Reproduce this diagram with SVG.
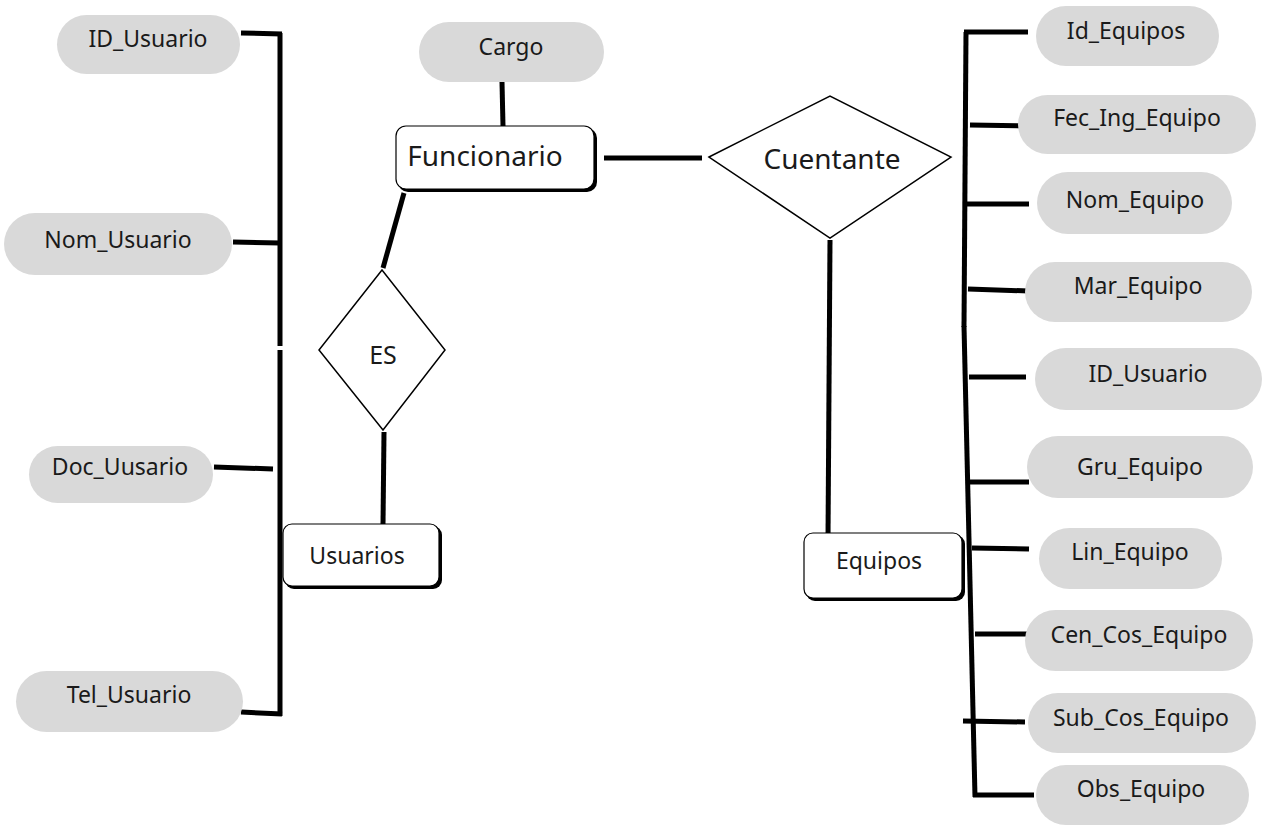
<svg xmlns="http://www.w3.org/2000/svg" width="1280" height="837" viewBox="0 0 1280 837">
<style>
.attr rect{fill:#d9d9d9;stroke:none}
text{font-family:"Noto Sans","Open Sans","DejaVu Sans",sans-serif;fill:#1a1a1a;text-anchor:middle;dominant-baseline:central}
.t20{font-size:23px}
.t25{font-size:28px}
.tes{font-size:25px}
.ent .sh{fill:#000}
.ent .bx{fill:#fff;stroke:#000;stroke-width:1.2}
.rel polygon{fill:#fff;stroke:#000;stroke-width:1.5}
#connectors line,#connectors polyline{stroke:#000;stroke-width:5;fill:none}
</style>
<rect width="1280" height="837" fill="#fff"/>
<g id="connectors">
<line x1="280" y1="33" x2="280" y2="346"/>
<line x1="280" y1="350" x2="280" y2="716"/>
<line x1="241" y1="33" x2="282" y2="34"/>
<line x1="233" y1="242" x2="280" y2="243"/>
<line x1="214" y1="467" x2="273" y2="469"/>
<line x1="241" y1="712" x2="282" y2="714"/>
<line x1="502" y1="82" x2="503" y2="126"/>
<line x1="404" y1="193" x2="383" y2="268"/>
<line x1="384" y1="432" x2="383" y2="525"/>
<line x1="604" y1="158" x2="702" y2="158"/>
<line x1="830" y1="240" x2="828" y2="538"/>
<line x1="966" y1="32" x2="964" y2="327"/>
<line x1="964" y1="326" x2="975" y2="797"/>
<line x1="964" y1="32" x2="1028" y2="32"/>
<line x1="970" y1="125" x2="1029" y2="126"/>
<line x1="967" y1="204" x2="1029" y2="204"/>
<line x1="968" y1="289" x2="1029" y2="291"/>
<line x1="969" y1="377" x2="1026" y2="377"/>
<line x1="970" y1="482" x2="1029" y2="482"/>
<line x1="972" y1="548" x2="1029" y2="549"/>
<line x1="975" y1="634" x2="1030" y2="634"/>
<line x1="963" y1="721" x2="1025" y2="722"/>
<line x1="973" y1="795" x2="1034" y2="795"/>
</g>
<g id="attr-id-usuario" class="attr"><rect x="57" y="15" width="183" height="59" rx="29.5"/><text class="t20" x="148" y="38">ID_Usuario</text></g>
<g id="attr-nom-usuario" class="attr"><rect x="4" y="213" width="228" height="62" rx="31"/><text class="t20" x="118" y="239">Nom_Usuario</text></g>
<g id="attr-doc-usuario" class="attr"><rect x="29" y="446" width="184" height="57" rx="28.5"/><text class="t20" x="120" y="466">Doc_Uusario</text></g>
<g id="attr-tel-usuario" class="attr"><rect x="16" y="671" width="227" height="61" rx="30.5"/><text class="t20" x="129" y="694">Tel_Usuario</text></g>
<g id="attr-cargo" class="attr"><rect x="419" y="22" width="185" height="60" rx="30"/><text class="t20" x="511" y="46">Cargo</text></g>
<g id="ent-funcionario" class="ent"><rect class="sh" x="398" y="128" width="199" height="64" rx="10"/><rect class="bx" x="396" y="126" width="198" height="63" rx="10"/><text class="t25" x="485" y="155">Funcionario</text></g>
<g id="rel-es" class="rel"><polygon points="382,270 445,350 383,430 319,350"/><text class="tes" x="383" y="354">ES</text></g>
<g id="ent-usuarios" class="ent"><rect class="sh" x="285" y="526" width="157" height="63" rx="9"/><rect class="bx" x="283" y="524" width="156" height="62" rx="9"/><text class="t20" x="357" y="555">Usuarios</text></g>
<g id="rel-cuentante" class="rel"><polygon points="709,157 830,96 951,157 830,238"/><text class="t25" x="832" y="158">Cuentante</text></g>
<g id="ent-equipos" class="ent"><rect class="sh" x="806" y="535" width="159" height="66" rx="9"/><rect class="bx" x="804" y="533" width="158" height="65" rx="9"/><text class="t20" x="879" y="560">Equipos</text></g>
<g id="attr-id-equipos" class="attr"><rect x="1036" y="6" width="183" height="60" rx="30"/><text class="t20" x="1126" y="30">Id_Equipos</text></g>
<g id="attr-fec-ing-equipo" class="attr"><rect x="1018" y="95" width="238" height="59" rx="29.5"/><text class="t20" x="1137" y="117">Fec_Ing_Equipo</text></g>
<g id="attr-nom-equipo" class="attr"><rect x="1037" y="172" width="195" height="62" rx="31"/><text class="t20" x="1135" y="199">Nom_Equipo</text></g>
<g id="attr-mar-equipo" class="attr"><rect x="1025" y="262" width="227" height="60" rx="30"/><text class="t20" x="1138" y="285">Mar_Equipo</text></g>
<g id="attr-id-usuario-eq" class="attr"><rect x="1035" y="348" width="227" height="62" rx="31"/><text class="t20" x="1148" y="373">ID_Usuario</text></g>
<g id="attr-gru-equipo" class="attr"><rect x="1027" y="436" width="226" height="62" rx="31"/><text class="t20" x="1140" y="466">Gru_Equipo</text></g>
<g id="attr-lin-equipo" class="attr"><rect x="1039" y="528" width="183" height="61" rx="30.5"/><text class="t20" x="1130" y="551">Lin_Equipo</text></g>
<g id="attr-cen-cos-equipo" class="attr"><rect x="1025" y="610" width="228" height="61" rx="30.5"/><text class="t20" x="1139" y="634">Cen_Cos_Equipo</text></g>
<g id="attr-sub-cos-equipo" class="attr"><rect x="1028" y="693" width="228" height="60" rx="30"/><text class="t20" x="1141" y="717">Sub_Cos_Equipo</text></g>
<g id="attr-obs-equipo" class="attr"><rect x="1036" y="765" width="213" height="60" rx="30"/><text class="t20" x="1141" y="788">Obs_Equipo</text></g>
</svg>
